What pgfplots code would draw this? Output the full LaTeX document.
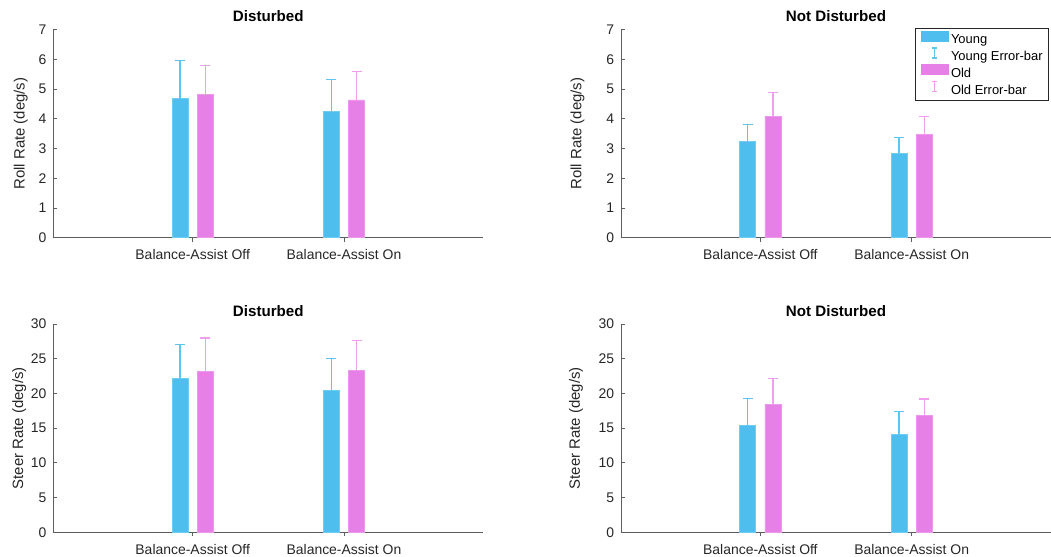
\documentclass[border=0pt]{standalone}
\usepackage{fontspec}
\setmainfont{Liberation Sans}
\usepackage{pgfplots}
\pgfplotsset{compat=1.18}
\usepackage{pgfplotstable}

\definecolor{young}{HTML}{4DBEEE}
\definecolor{youngedge}{HTML}{70CCF3}
\definecolor{youngerr}{HTML}{5CC6F2}
\definecolor{old}{HTML}{E680E6}
\definecolor{oldedge}{HTML}{EC98EC}
\definecolor{olderr}{HTML}{F09FF0}
\definecolor{axgray}{HTML}{5E5E5E}

% x: 1 = Balance-Assist Off, 2 = Balance-Assist On ; y = mean ; e = upper error
\pgfplotstableread{
x y e
1 4.67 1.28
2 4.25 1.06
}\rollDistYoung
\pgfplotstableread{
x y e
1 4.82 0.96
2 4.63 0.95
}\rollDistOld
\pgfplotstableread{
x y e
1 3.25 0.56
2 2.84 0.53
}\rollNotYoung
\pgfplotstableread{
x y e
1 4.09 0.79
2 3.46 0.62
}\rollNotOld
\pgfplotstableread{
x y e
1 22.2 4.9
2 20.5 4.5
}\steerDistYoung
\pgfplotstableread{
x y e
1 23.2 4.8
2 23.35 4.25
}\steerDistOld
\pgfplotstableread{
x y e
1 15.36 3.94
2 14.07 3.33
}\steerNotYoung
\pgfplotstableread{
x y e
1 18.47 3.68
2 16.8 2.4
}\steerNotOld

\pgfplotsset{
  panel/.style={
    scale only axis, width=430bp, height=208.2bp, anchor=south west,
    xmin=0.0787, xmax=2.921, xtick={1,2},
    xticklabels={Balance-Assist Off, Balance-Assist On},
    axis x line*=bottom, axis y line*=left,
    axis line style={axgray, line width=0.8bp, -},
    tick style={axgray, line width=0.8bp},
    tick align=inside, major tick length=4bp,
    ymin=0,
    /pgf/number format/assume math mode=true,
    tick label style={font=\fontsize{14}{16}\selectfont, text=black!85},
    xticklabel style={anchor=base, inner sep=0pt, yshift=-18.3bp},
    yticklabel style={anchor=east, inner sep=0pt, xshift=-6.6bp},
    every axis title/.style={at={(axis description cs:0.5,1)}, anchor=base,
      inner sep=0pt, yshift=7.6bp, font=\bfseries\fontsize{15.2}{17}\selectfont},
    every axis y label/.style={at={(axis description cs:0,0.5)}, rotate=90,
      anchor=center, font=\fontsize{15}{17}\selectfont, text=black!85},
    ybar, bar width=0.1057,
  },
  youngbars/.style={fill=young, draw=youngedge, line width=0.8bp, bar shift=-0.083,
    error bars/.cd, y dir=plus, y explicit,
    error bar style={draw=youngerr, line width=1.3bp},
    error mark=-,
    error mark options={rotate=90, draw=youngerr, mark size=5bp, line width=1.3bp},
    /pgfplots/.cd},
  oldbars/.style={fill=old, draw=oldedge, line width=0.8bp, bar shift=0.083,
    error bars/.cd, y dir=plus, y explicit,
    error bar style={draw=olderr, line width=1.3bp},
    error mark=-,
    error mark options={rotate=90, draw=olderr, mark size=5bp, line width=1.3bp},
    /pgfplots/.cd},
}

\begin{document}
\begin{tikzpicture}
\useasboundingbox (0,0) rectangle (1051bp,557bp);

% top-left
\begin{axis}[panel, at={(53.3bp,319.3bp)}, ymax=7, ytick={0,1,...,7},
  title={Disturbed}, ylabel={Roll Rate (deg/s)},
  every axis y label/.append style={yshift=32.5bp}]
\addplot[youngbars] table[x=x, y=y, y error=e] {\rollDistYoung};
\addplot[oldbars] table[x=x, y=y, y error=e] {\rollDistOld};
\end{axis}

% top-right
\begin{axis}[panel, at={(621bp,319.3bp)}, ymax=7, ytick={0,1,...,7},
  title={Not Disturbed}, ylabel={Roll Rate (deg/s)},
  every axis y label/.append style={yshift=43.5bp},
  legend style={at={(axis description cs:1,1)}, anchor=north east,
    xshift=-2bp, yshift=1bp, draw=black!85, line width=0.6bp, fill=white,
    font=\fontsize{13}{15}\selectfont, inner xsep=6bp, inner ysep=2bp,
    row sep=0pt, column sep=2.5bp,
    nodes={inner sep=0pt, anchor=west, text height=9.8bp, text depth=3.8bp}},
  legend cell align=left]
\addplot[forget plot, youngbars] table[x=x, y=y, y error=e] {\rollNotYoung};
\addplot[forget plot, oldbars] table[x=x, y=y, y error=e] {\rollNotOld};
\addlegendimage{legend image code/.code={
  \fill[young] (0bp,-0.5bp) rectangle (27bp,9.5bp);}}
\addlegendentry{Young}
\addlegendimage{legend image code/.code={
  \draw[draw=youngerr, line width=1.3bp] (13.5bp,-0.5bp) -- (13.5bp,9.5bp)
     (11bp,-0.5bp) -- (16bp,-0.5bp) (11bp,9.5bp) -- (16bp,9.5bp);}}
\addlegendentry{Young Error-bar}
\addlegendimage{legend image code/.code={
  \fill[old] (0bp,-0.5bp) rectangle (27bp,9.5bp);}}
\addlegendentry{Old}
\addlegendimage{legend image code/.code={
  \draw[draw=olderr, line width=1.3bp] (13.5bp,-0.5bp) -- (13.5bp,9.5bp)
     (11bp,-0.5bp) -- (16bp,-0.5bp) (11bp,9.5bp) -- (16bp,9.5bp);}}
\addlegendentry{Old Error-bar}
\end{axis}

% bottom-left
\begin{axis}[panel, at={(53.3bp,24.7bp)}, ymax=30, ytick={0,5,...,30},
  title={Disturbed}, ylabel={Steer Rate (deg/s)},
  every axis y label/.append style={yshift=34bp}]
\addplot[youngbars] table[x=x, y=y, y error=e] {\steerDistYoung};
\addplot[oldbars] table[x=x, y=y, y error=e] {\steerDistOld};
\end{axis}

% bottom-right
\begin{axis}[panel, at={(621bp,24.7bp)}, ymax=30, ytick={0,5,...,30},
  title={Not Disturbed}, ylabel={Steer Rate (deg/s)},
  every axis y label/.append style={yshift=45bp}]
\addplot[youngbars] table[x=x, y=y, y error=e] {\steerNotYoung};
\addplot[oldbars] table[x=x, y=y, y error=e] {\steerNotOld};
\end{axis}
\end{tikzpicture}
\end{document}
